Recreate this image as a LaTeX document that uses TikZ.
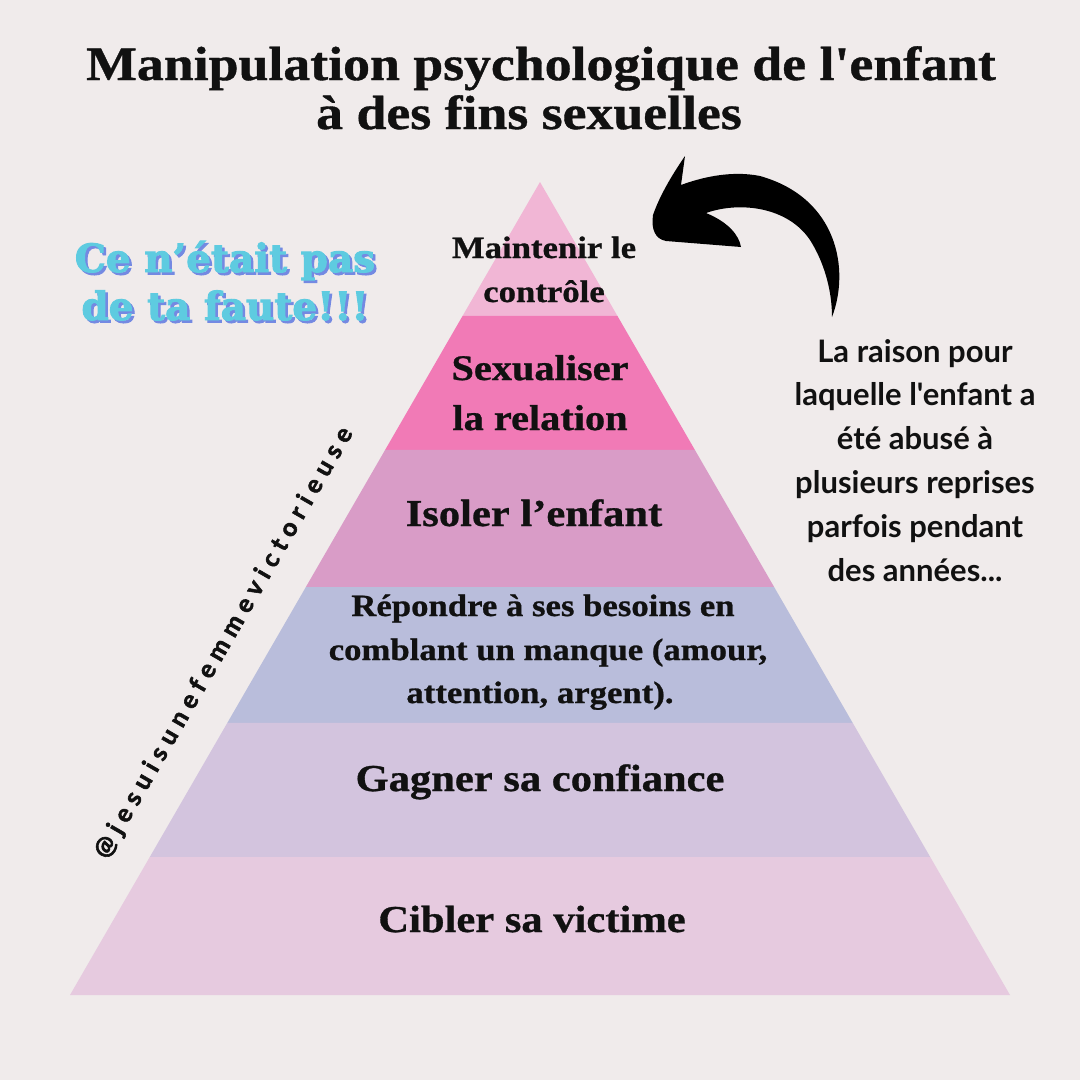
\documentclass[tikz,border=0pt]{standalone}
\usepackage{fontspec}
\usetikzlibrary{calc}
\newfontfamily\pyrfont[FakeStretch=1.12, BoldFeatures={FakeBold=0.8}]{Liberation Serif}
\newfontfamily\latofont{Lato}
\newfontfamily\wmfont[LetterSpace=27, BoldFeatures={FakeBold=2.2}]{Lato}
\newfontfamily\slabfont[BoldFeatures={FakeBold=2.4}]{DejaVu Serif}
\definecolor{bg}{HTML}{F0EBEB}
\definecolor{layA}{HTML}{F1B6D5}
\definecolor{layB}{HTML}{F17AB6}
\definecolor{layC}{HTML}{D99CC7}
\definecolor{layD}{HTML}{B9BDDB}
\definecolor{layE}{HTML}{D3C4DE}
\definecolor{layF}{HTML}{E6CADF}
\definecolor{cyanT}{HTML}{5ECBE0}
\definecolor{shadowT}{HTML}{7489E2}
\definecolor{ink}{HTML}{111111}
\newcommand{\shadowed}[1]{\makebox[0pt][l]{\hspace{2.5pt}\raisebox{-2.5pt}{\textcolor{shadowT}{#1}}}\textcolor{cyanT}{#1}}
\begin{document}
\begin{tikzpicture}[x=1pt,y=-1pt,
  titletext/.style={font=\pyrfont\bfseries\fontsize{48}{56}\selectfont, inner sep=0pt, anchor=base, text=ink},
  bigtext/.style={font=\pyrfont\bfseries\fontsize{38}{44}\selectfont, inner sep=0pt, anchor=base, text=ink},
  midtext/.style={font=\pyrfont\bfseries\fontsize{36}{44}\selectfont, inner sep=0pt, anchor=base, text=ink},
  smalltext/.style={font=\pyrfont\bfseries\fontsize{31}{36}\selectfont, inner sep=0pt, anchor=base, text=ink},
  sidetext/.style={font=\latofont\bfseries\fontsize{31}{36}\selectfont, inner sep=0pt, anchor=base, text=ink},
  slogan/.style={font=\slabfont\bfseries\fontsize{39}{44}\selectfont, inner sep=0pt, anchor=base},
  wmtext/.style={font=\wmfont\bfseries\fontsize{25}{28}\selectfont, inner sep=0pt, anchor=center, rotate=60, text=ink}]
\useasboundingbox (0,0) rectangle (1080,1080);
\fill[bg] (0,0) rectangle (1080,1080);

% pyramid
\coordinate (apex) at (540,182);
\coordinate (bl) at (70,995);
\coordinate (br) at (1010,995);
\fill[layA] (apex) -- ($(apex)!0.1648!(br)$) -- ($(apex)!0.1648!(bl)$) -- cycle;
\fill[layB] ($(apex)!0.1648!(bl)$) -- ($(apex)!0.1648!(br)$) -- ($(apex)!0.3296!(br)$) -- ($(apex)!0.3296!(bl)$) -- cycle;
\fill[layC] ($(apex)!0.3296!(bl)$) -- ($(apex)!0.3296!(br)$) -- ($(apex)!0.4982!(br)$) -- ($(apex)!0.4982!(bl)$) -- cycle;
\fill[layD] ($(apex)!0.4982!(bl)$) -- ($(apex)!0.4982!(br)$) -- ($(apex)!0.6654!(br)$) -- ($(apex)!0.6654!(bl)$) -- cycle;
\fill[layE] ($(apex)!0.6654!(bl)$) -- ($(apex)!0.6654!(br)$) -- ($(apex)!0.8303!(br)$) -- ($(apex)!0.8303!(bl)$) -- cycle;
\fill[layF] ($(apex)!0.8303!(bl)$) -- ($(apex)!0.8303!(br)$) -- (br) -- (bl) -- cycle;

% title
\node[titletext] (title1) at (541,80) {Manipulation psychologique de l'enfant};
\node[titletext] (title2) at (529,129) {à des fins sexuelles};

% layer labels
\node[smalltext] (l6a) at (544,258) {Maintenir le};
\node[smalltext] (l6b) at (544,302) {contrôle};
\node[midtext] (l5a) at (540,380) {Sexualiser};
\node[midtext] (l5b) at (540,430) {la relation};
\node[bigtext] (l4) at (534,526) {Isoler l’enfant};
\node[smalltext] (l3a) at (543,616) {Répondre à ses besoins en};
\node[smalltext] (l3b) at (548,660) {comblant un manque (amour,};
\node[smalltext] (l3c) at (540,703) {attention, argent).};
\node[bigtext] (l2) at (540,791) {Gagner sa confiance};
\node[bigtext] (l1) at (532,932) {Cibler sa victime};

% side text
\node[sidetext] (s1) at (915,362) {La raison pour};
\node[sidetext] (s2) at (915,405) {laquelle l'enfant a};
\node[sidetext] (s3) at (915,449) {été abusé à};
\node[sidetext] (s4) at (915,493) {plusieurs reprises};
\node[sidetext] (s5) at (915,537) {parfois pendant};
\node[sidetext] (s6) at (915,581) {des années...};

% slogan with shadow
\node[slogan] (g1) at (225,272) {\shadowed{Ce n’était pas}};
\node[slogan] (g2) at (225,320) {\shadowed{de ta faute!!!}};

% watermark
\node[wmtext] (wm) at (224,643) {@jesuisunefemmevictorieuse};

% curved arrow
\fill[black] (832,317) .. controls (850,270) and (838,198) .. (760,176)
  .. controls (730,170) and (700,178) .. (681,185)
  -- (685,156)
  .. controls (672,175) and (660,195) .. (653,215)
  .. controls (651,229) and (655,239) .. (666,241)
  -- (741,247)
  .. controls (739,235) and (728,222) .. (706,213)
  .. controls (740,201) and (788,207) .. (810,240)
  .. controls (824,262) and (832,290) .. (832,317) -- cycle;
\end{tikzpicture}
\end{document}
